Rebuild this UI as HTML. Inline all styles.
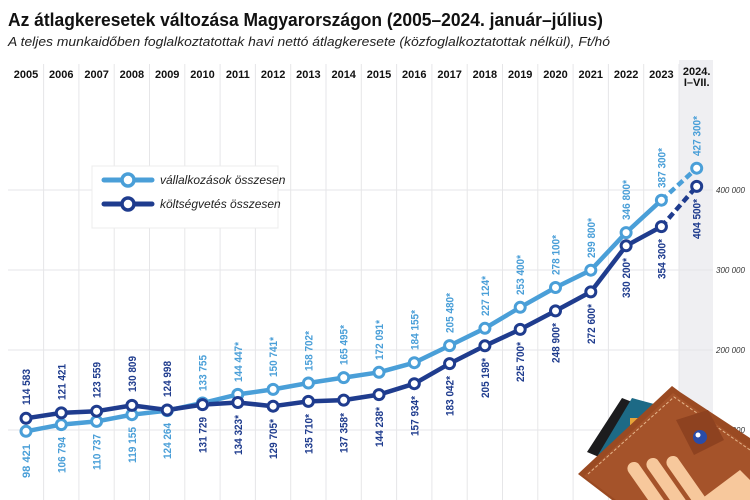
<!DOCTYPE html>
<html><head><meta charset="utf-8"><style>
body{margin:0;background:#fff;}
svg{display:block;font-family:"Liberation Sans",sans-serif;}
.yl{font-size:11px;font-weight:bold;fill:#111;}
.lb{font-size:11px;font-weight:bold;}
.L{fill:#4a9fd8;} .D{fill:#1f3c8e;}
</style></head><body>
<svg width="750" height="500" viewBox="0 0 750 500" xmlns="http://www.w3.org/2000/svg">
<rect width="750" height="500" fill="#fff"/>
<text x="8" y="26" font-size="18" font-weight="bold" fill="#111" textLength="595" lengthAdjust="spacingAndGlyphs">Az átlagkeresetek változása Magyarországon (2005–2024. január–július)</text>
<text x="8" y="46" font-size="12.5" font-style="italic" fill="#222" textLength="602" lengthAdjust="spacingAndGlyphs">A teljes munkaidőben foglalkoztatottak havi nettó átlagkeresete (közfoglalkoztatottak nélkül), Ft/hó</text>
<rect x="679" y="60" width="34" height="440" fill="#efeff2"/>
<g stroke="#e6e6e8" stroke-width="1">
<line x1="43.6" y1="64" x2="43.6" y2="500"/><line x1="78.9" y1="64" x2="78.9" y2="500"/><line x1="114.2" y1="64" x2="114.2" y2="500"/><line x1="149.5" y1="64" x2="149.5" y2="500"/><line x1="184.8" y1="64" x2="184.8" y2="500"/><line x1="220.1" y1="64" x2="220.1" y2="500"/><line x1="255.4" y1="64" x2="255.4" y2="500"/><line x1="290.7" y1="64" x2="290.7" y2="500"/><line x1="326" y1="64" x2="326" y2="500"/><line x1="361.3" y1="64" x2="361.3" y2="500"/><line x1="396.6" y1="64" x2="396.6" y2="500"/><line x1="431.9" y1="64" x2="431.9" y2="500"/><line x1="467.2" y1="64" x2="467.2" y2="500"/><line x1="502.5" y1="64" x2="502.5" y2="500"/><line x1="537.8" y1="64" x2="537.8" y2="500"/><line x1="573.1" y1="64" x2="573.1" y2="500"/><line x1="608.4" y1="64" x2="608.4" y2="500"/><line x1="643.7" y1="64" x2="643.7" y2="500"/><line x1="679" y1="64" x2="679" y2="500"/>
<line x1="8" y1="190" x2="713" y2="190"/><line x1="8" y1="270" x2="713" y2="270"/><line x1="8" y1="350" x2="713" y2="350"/><line x1="8" y1="430" x2="713" y2="430"/>
</g>
<g class="yl" text-anchor="middle">
<text x="26" y="78">2005</text><text x="61.3" y="78">2006</text><text x="96.6" y="78">2007</text><text x="131.9" y="78">2008</text><text x="167.2" y="78">2009</text><text x="202.5" y="78">2010</text><text x="237.8" y="78">2011</text><text x="273.1" y="78">2012</text><text x="308.4" y="78">2013</text><text x="343.7" y="78">2014</text><text x="379" y="78">2015</text><text x="414.3" y="78">2016</text><text x="449.6" y="78">2017</text><text x="484.9" y="78">2018</text><text x="520.2" y="78">2019</text><text x="555.5" y="78">2020</text><text x="590.8" y="78">2021</text><text x="626.1" y="78">2022</text><text x="661.4" y="78">2023</text><text x="696.7" y="75">2024.</text><text x="696.7" y="86">I–VII.</text>
</g>
<g font-size="8" font-style="italic" fill="#333">
<text x="716" y="193">400 000</text><text x="716" y="273">300 000</text><text x="716" y="353">200 000</text><text x="716" y="433">100 000</text>
</g>
<rect x="92" y="166" width="186" height="62" fill="#fff" stroke="#ececec"/>
<line x1="104" y1="180" x2="152" y2="180" stroke="#4a9fd8" stroke-width="5" stroke-linecap="round"/>
<circle cx="128" cy="180" r="6" fill="#fff" stroke="#4a9fd8" stroke-width="3.5"/>
<line x1="104" y1="204" x2="152" y2="204" stroke="#1f3c8e" stroke-width="5" stroke-linecap="round"/>
<circle cx="128" cy="204" r="6" fill="#fff" stroke="#1f3c8e" stroke-width="3.5"/>
<text x="160" y="184" font-size="12" font-style="italic" fill="#222">vállalkozások összesen</text>
<text x="160" y="208" font-size="12" font-style="italic" fill="#222">költségvetés összesen</text>
<polyline fill="none" stroke="#4a9fd8" stroke-width="4.5" stroke-linejoin="round" points="26,431.3 61.3,424.6 96.6,421.4 131.9,414.7 167.2,410.6 202.5,403 237.8,394.4 273.1,389.4 308.4,383 343.7,377.6 379,372.3 414.3,362.7 449.6,345.6 484.9,328.3 520.2,307.3 555.5,287.5 590.8,270.2 626.1,232.6 661.4,200.2"/>
<line x1="661.4" y1="200.2" x2="696.7" y2="168.2" stroke="#4a9fd8" stroke-width="4.5" stroke-dasharray="7,4"/>
<polyline fill="none" stroke="#1f3c8e" stroke-width="4.5" stroke-linejoin="round" points="26,418.3 61.3,412.9 96.6,411.2 131.9,405.4 167.2,410 202.5,404.6 237.8,402.5 273.1,406.2 308.4,401.4 343.7,400.1 379,394.6 414.3,383.7 449.6,363.6 484.9,345.8 520.2,329.4 555.5,310.9 590.8,291.9 626.1,245.8 661.4,226.6"/>
<line x1="661.4" y1="226.6" x2="696.7" y2="186.4" stroke="#1f3c8e" stroke-width="4.5" stroke-dasharray="7,4"/>
<g fill="#fff" stroke="#4a9fd8" stroke-width="3">
<circle cx="26" cy="431.3" r="5"/><circle cx="61.3" cy="424.6" r="5"/><circle cx="96.6" cy="421.4" r="5"/><circle cx="131.9" cy="414.7" r="5"/><circle cx="167.2" cy="410.6" r="5"/><circle cx="202.5" cy="403" r="5"/><circle cx="237.8" cy="394.4" r="5"/><circle cx="273.1" cy="389.4" r="5"/><circle cx="308.4" cy="383" r="5"/><circle cx="343.7" cy="377.6" r="5"/><circle cx="379" cy="372.3" r="5"/><circle cx="414.3" cy="362.7" r="5"/><circle cx="449.6" cy="345.6" r="5"/><circle cx="484.9" cy="328.3" r="5"/><circle cx="520.2" cy="307.3" r="5"/><circle cx="555.5" cy="287.5" r="5"/><circle cx="590.8" cy="270.2" r="5"/><circle cx="626.1" cy="232.6" r="5"/><circle cx="661.4" cy="200.2" r="5"/><circle cx="696.7" cy="168.2" r="5"/>
</g>
<g fill="#fff" stroke="#1f3c8e" stroke-width="3">
<circle cx="26" cy="418.3" r="5"/><circle cx="61.3" cy="412.9" r="5"/><circle cx="96.6" cy="411.2" r="5"/><circle cx="131.9" cy="405.4" r="5"/><circle cx="167.2" cy="410" r="5"/><circle cx="202.5" cy="404.6" r="5"/><circle cx="237.8" cy="402.5" r="5"/><circle cx="273.1" cy="406.2" r="5"/><circle cx="308.4" cy="401.4" r="5"/><circle cx="343.7" cy="400.1" r="5"/><circle cx="379" cy="394.6" r="5"/><circle cx="414.3" cy="383.7" r="5"/><circle cx="449.6" cy="363.6" r="5"/><circle cx="484.9" cy="345.8" r="5"/><circle cx="520.2" cy="329.4" r="5"/><circle cx="555.5" cy="310.9" r="5"/><circle cx="590.8" cy="291.9" r="5"/><circle cx="626.1" cy="245.8" r="5"/><circle cx="661.4" cy="226.6" r="5"/><circle cx="696.7" cy="186.4" r="5"/>
</g>
<g class="lb L">
<text transform="translate(30,444) rotate(-90)" text-anchor="end" textLength="34" lengthAdjust="spacingAndGlyphs">98 421</text>
<text transform="translate(65.3,437) rotate(-90)" text-anchor="end" textLength="36" lengthAdjust="spacingAndGlyphs">106 794</text>
<text transform="translate(100.6,434) rotate(-90)" text-anchor="end" textLength="36" lengthAdjust="spacingAndGlyphs">110 737</text>
<text transform="translate(135.9,427) rotate(-90)" text-anchor="end" textLength="36" lengthAdjust="spacingAndGlyphs">119 155</text>
<text transform="translate(171.2,423) rotate(-90)" text-anchor="end" textLength="36" lengthAdjust="spacingAndGlyphs">124 264</text>
<text transform="translate(206.5,391) rotate(-90)" textLength="36" lengthAdjust="spacingAndGlyphs">133 755</text>
<text transform="translate(241.8,382) rotate(-90)" textLength="40" lengthAdjust="spacingAndGlyphs">144 447*</text>
<text transform="translate(277.1,377) rotate(-90)" textLength="40" lengthAdjust="spacingAndGlyphs">150 741*</text>
<text transform="translate(312.4,371) rotate(-90)" textLength="40" lengthAdjust="spacingAndGlyphs">158 702*</text>
<text transform="translate(347.7,365) rotate(-90)" textLength="40" lengthAdjust="spacingAndGlyphs">165 495*</text>
<text transform="translate(383,360) rotate(-90)" textLength="40" lengthAdjust="spacingAndGlyphs">172 091*</text>
<text transform="translate(418.3,350) rotate(-90)" textLength="40" lengthAdjust="spacingAndGlyphs">184 155*</text>
<text transform="translate(453.6,333) rotate(-90)" textLength="40" lengthAdjust="spacingAndGlyphs">205 480*</text>
<text transform="translate(488.9,316) rotate(-90)" textLength="40" lengthAdjust="spacingAndGlyphs">227 124*</text>
<text transform="translate(524.2,295) rotate(-90)" textLength="40" lengthAdjust="spacingAndGlyphs">253 400*</text>
<text transform="translate(559.5,275) rotate(-90)" textLength="40" lengthAdjust="spacingAndGlyphs">278 100*</text>
<text transform="translate(594.8,258) rotate(-90)" textLength="40" lengthAdjust="spacingAndGlyphs">299 800*</text>
<text transform="translate(630.1,220) rotate(-90)" textLength="40" lengthAdjust="spacingAndGlyphs">346 800*</text>
<text transform="translate(665.4,188) rotate(-90)" textLength="40" lengthAdjust="spacingAndGlyphs">387 300*</text>
<text transform="translate(700.7,156) rotate(-90)" textLength="40" lengthAdjust="spacingAndGlyphs">427 300*</text>
</g>
<g class="lb D">
<text transform="translate(30,405) rotate(-90)" textLength="36" lengthAdjust="spacingAndGlyphs">114 583</text>
<text transform="translate(65.3,400) rotate(-90)" textLength="36" lengthAdjust="spacingAndGlyphs">121 421</text>
<text transform="translate(100.6,398) rotate(-90)" textLength="36" lengthAdjust="spacingAndGlyphs">123 559</text>
<text transform="translate(135.9,392) rotate(-90)" textLength="36" lengthAdjust="spacingAndGlyphs">130 809</text>
<text transform="translate(171.2,397) rotate(-90)" textLength="36" lengthAdjust="spacingAndGlyphs">124 998</text>
<text transform="translate(206.5,417) rotate(-90)" text-anchor="end" textLength="36" lengthAdjust="spacingAndGlyphs">131 729</text>
<text transform="translate(241.8,415) rotate(-90)" text-anchor="end" textLength="40" lengthAdjust="spacingAndGlyphs">134 323*</text>
<text transform="translate(277.1,419) rotate(-90)" text-anchor="end" textLength="40" lengthAdjust="spacingAndGlyphs">129 705*</text>
<text transform="translate(312.4,414) rotate(-90)" text-anchor="end" textLength="40" lengthAdjust="spacingAndGlyphs">135 710*</text>
<text transform="translate(347.7,413) rotate(-90)" text-anchor="end" textLength="40" lengthAdjust="spacingAndGlyphs">137 358*</text>
<text transform="translate(383,407) rotate(-90)" text-anchor="end" textLength="40" lengthAdjust="spacingAndGlyphs">144 238*</text>
<text transform="translate(418.3,396) rotate(-90)" text-anchor="end" textLength="40" lengthAdjust="spacingAndGlyphs">157 934*</text>
<text transform="translate(453.6,376) rotate(-90)" text-anchor="end" textLength="40" lengthAdjust="spacingAndGlyphs">183 042*</text>
<text transform="translate(488.9,358) rotate(-90)" text-anchor="end" textLength="40" lengthAdjust="spacingAndGlyphs">205 198*</text>
<text transform="translate(524.2,342) rotate(-90)" text-anchor="end" textLength="40" lengthAdjust="spacingAndGlyphs">225 700*</text>
<text transform="translate(559.5,323) rotate(-90)" text-anchor="end" textLength="40" lengthAdjust="spacingAndGlyphs">248 900*</text>
<text transform="translate(594.8,304) rotate(-90)" text-anchor="end" textLength="40" lengthAdjust="spacingAndGlyphs">272 600*</text>
<text transform="translate(630.1,258) rotate(-90)" text-anchor="end" textLength="40" lengthAdjust="spacingAndGlyphs">330 200*</text>
<text transform="translate(665.4,239) rotate(-90)" text-anchor="end" textLength="40" lengthAdjust="spacingAndGlyphs">354 300*</text>
<text transform="translate(700.7,199) rotate(-90)" text-anchor="end" textLength="40" lengthAdjust="spacingAndGlyphs">404 500*</text>
</g>
<polygon points="587,452 622,398 640,405 606,460" fill="#1c1c1e"/>
<polygon points="598,455 632,398 654,404 618,462" fill="#1d6a86"/>
<rect x="630" y="418" width="8" height="7" fill="#e7a53a"/>
<polygon points="578,474 672,386 680,392 750,438 750,500 612,500" fill="#9a4a22"/>
<polygon points="584,476 673,393 750,448 750,500 616,500" fill="#a5532a"/>
<polyline points="588,474 674,397 750,450" fill="none" stroke="#e5b58a" stroke-width="1" stroke-dasharray="3,2"/>
<polygon points="676,420 708,410 724,440 694,455" fill="#8e4220"/>
<circle cx="700" cy="437" r="7" fill="#2a4ca8"/>
<circle cx="698" cy="435" r="2.5" fill="#fff"/>
<g fill="#f7c89c">
<rect x="641" y="458" width="13" height="60" rx="6.5" transform="rotate(-35 647 488)"/>
<rect x="660" y="454" width="13" height="60" rx="6.5" transform="rotate(-35 666 484)"/>
<rect x="680" y="452" width="13" height="60" rx="6.5" transform="rotate(-35 686 482)"/>
<polygon points="700,500 740,470 750,480 750,500"/>
</g>
</svg>
</body></html>
